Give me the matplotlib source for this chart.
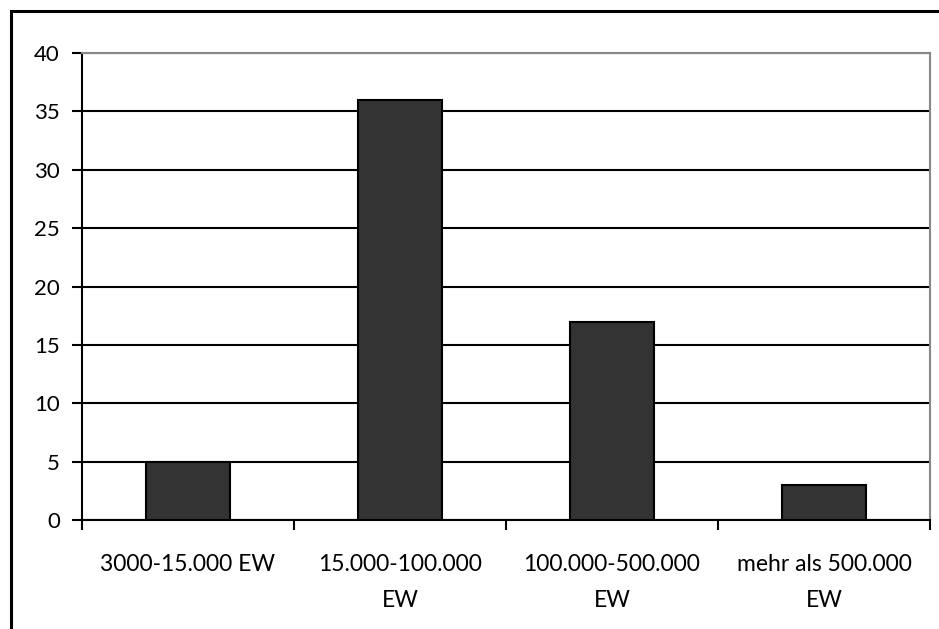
import matplotlib.pyplot as plt
from matplotlib.patches import Rectangle

# Einwohnerklassen und Anzahl
kategorien = ['3000-15.000 EW', '15.000-100.000\nEW', '100.000-500.000\nEW', 'mehr als 500.000\nEW']
anzahl = [5, 36, 17, 3]
y_ticks = [0, 5, 10, 15, 20, 25, 30, 35, 40]

plt.rcParams['font.family'] = ['Lato', 'DejaVu Sans']

fig = plt.figure(figsize=(9.39, 6.29), dpi=100)
# Rahmen um die ganze Grafik (rechts und unten abgeschnitten)
fig.patches.append(Rectangle((11 / 939, -0.1), 1.2, 0.1 + 1 - 11 / 629, transform=fig.transFigure,
                             fill=False, edgecolor='black', linewidth=2.2))

ax = fig.add_axes([82 / 939, 1 - 520.3 / 629, 848 / 939, 467.3 / 629])

x = range(len(kategorien))
ax.bar(x, anzahl, width=0.4, color='#333333', edgecolor='black', linewidth=1.5, zorder=3)

ax.set_ylim(0, 40)
ax.set_xlim(-0.5, len(kategorien) - 0.5)
ax.set_yticks(y_ticks)
ax.yaxis.grid(True, color='black', linewidth=1.5, zorder=0)
ax.set_axisbelow(True)

# Striche zwischen den Kategorien
ax.set_xticks([i - 0.5 for i in range(len(kategorien) + 1)])
ax.set_xticklabels([])
ax.set_xticks(list(x), minor=True)
ax.set_xticklabels(kategorien, minor=True, fontsize=16.5, linespacing=1.9, va='top')
ax.tick_params(axis='x', which='minor', length=0, pad=24)
ax.tick_params(axis='x', which='major', length=7, width=1.5, direction='out')
ax.tick_params(axis='y', length=7, width=1.5, direction='out', labelsize=16, pad=9)

ax.spines['left'].set_linewidth(1.5)
ax.spines['bottom'].set_linewidth(1.5)
ax.spines['top'].set_color('#888888')
ax.spines['top'].set_linewidth(1.5)
ax.spines['right'].set_color('#888888')
ax.spines['right'].set_linewidth(1.5)

fig.savefig('out.png', dpi=100)
